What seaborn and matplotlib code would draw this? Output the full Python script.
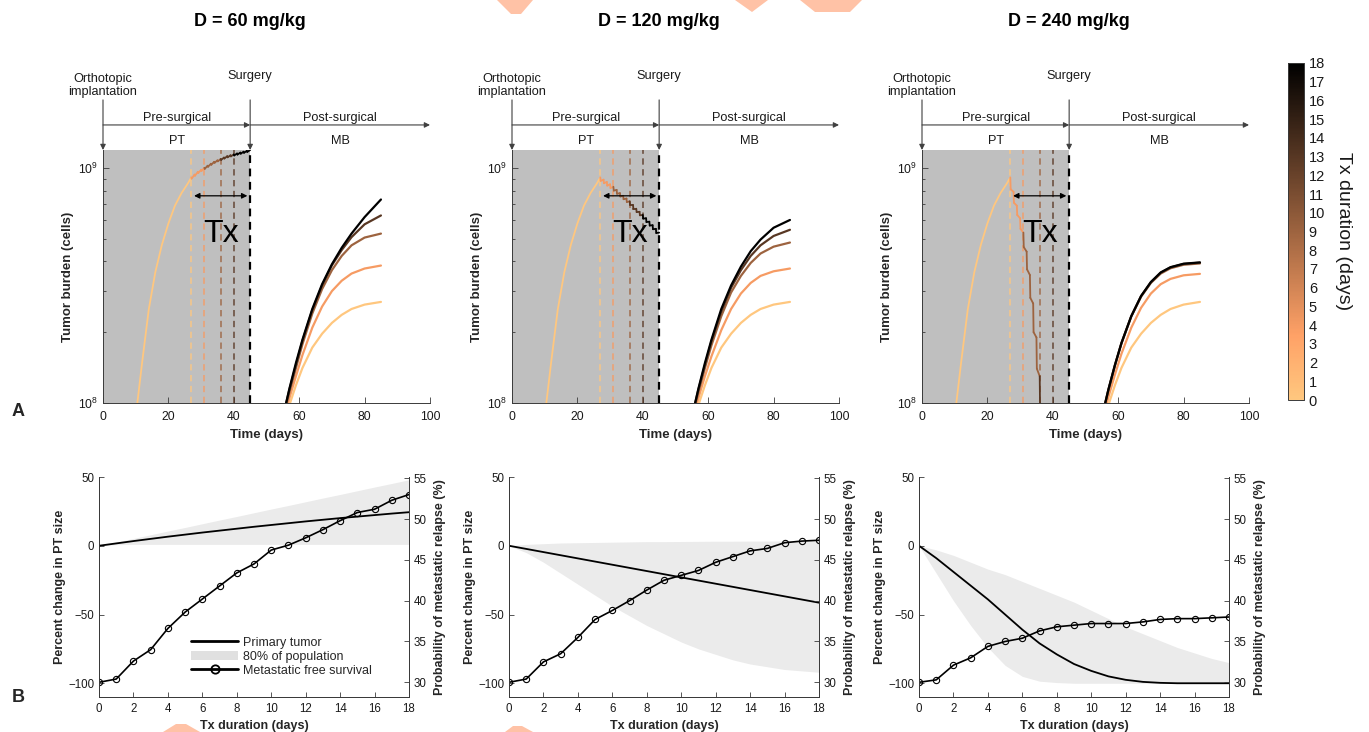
import numpy as np
import pandas as pd
import matplotlib
matplotlib.use('Agg')
import matplotlib.pyplot as plt
import seaborn as sns
from matplotlib.lines import Line2D
from matplotlib.patches import Patch, Polygon
from matplotlib.colors import Normalize
from matplotlib.cm import ScalarMappable
from matplotlib.collections import LineCollection

sns.set_theme(style='white')
plt.rcParams['font.family'] = ['Liberation Sans', 'DejaVu Sans']
plt.rcParams['mathtext.default'] = 'regular'

# ---- data ----
dose_titles = ['D = 60 mg/kg', 'D = 120 mg/kg', 'D = 240 mg/kg']
tx_durations = [0, 4, 9, 13, 18]
tx_end_days = [27, 31, 36, 40, 45]
tx_start = 27
surgery_day = 45

# pre-surgical primary tumour growth (cells)
pre_days = [10.5, 12, 14, 16, 18, 20, 22, 24, 26, 27]
pre_cells = [1.0e8, 1.5e8, 2.5e8, 3.6e8, 4.7e8, 5.8e8, 6.9e8, 7.8e8, 8.6e8, 9.1e8]

# PT during treatment, value before each daily dose and just after it (x1e8 cells)
tx_peak_60 = [9.1, 9.35, 9.6, 9.8, 10.0, 10.2, 10.4, 10.6, 10.75, 10.9, 11.05, 11.2, 11.3, 11.4, 11.5, 11.6, 11.7, 11.8, 11.9]
tx_dip_60 = [9.0, 9.25, 9.5, 9.7, 9.9, 10.1, 10.3, 10.5, 10.65, 10.8, 10.95, 11.08, 11.18, 11.28, 11.38, 11.48, 11.58, 11.68]
tx_peak_120 = [9.1, 8.9, 8.7, 8.5, 8.3, 8.05, 7.8, 7.6, 7.4, 7.2, 6.95, 6.7, 6.5, 6.3, 6.1, 5.9, 5.7, 5.5, 5.3]
tx_dip_120 = [8.8, 8.6, 8.4, 8.2, 8.0, 7.75, 7.55, 7.35, 7.15, 6.95, 6.7, 6.48, 6.28, 6.08, 5.88, 5.68, 5.48, 5.28]
tx_peak_240 = [9.1, 7.9, 6.9, 6.1, 5.3, 4.4, 3.5, 2.65, 1.9, 1.3]
tx_dip_240 = [8.1, 7.1, 6.3, 5.5, 4.6, 3.7, 2.8, 2.0, 1.4, 0.9]

# post-surgical metastatic burden (x1e8 cells), one list per Tx duration
mb_days = [55, 57, 59, 61, 64, 67, 70, 73, 76, 80, 85]
mb_d0 = [0.79, 0.98, 1.19, 1.41, 1.72, 1.97, 2.19, 2.37, 2.51, 2.62, 2.69]
mb_60 = [mb_d0,
         [0.83, 1.05, 1.30, 1.60, 2.09, 2.57, 2.99, 3.31, 3.55, 3.73, 3.84],
         [0.86, 1.11, 1.41, 1.78, 2.40, 3.05, 3.67, 4.22, 4.68, 5.05, 5.25],
         [0.87, 1.14, 1.45, 1.84, 2.48, 3.16, 3.85, 4.47, 5.07, 5.75, 6.27],
         [0.87, 1.15, 1.48, 1.86, 2.51, 3.20, 3.89, 4.57, 5.25, 6.17, 7.33]]
mb_120 = [mb_d0,
          [0.83, 1.05, 1.30, 1.58, 2.04, 2.51, 2.92, 3.24, 3.47, 3.63, 3.73],
          [0.86, 1.11, 1.41, 1.76, 2.34, 2.95, 3.47, 3.94, 4.32, 4.62, 4.81],
          [0.87, 1.14, 1.45, 1.83, 2.45, 3.09, 3.67, 4.22, 4.68, 5.13, 5.45],
          [0.87, 1.15, 1.48, 1.86, 2.51, 3.16, 3.80, 4.42, 4.95, 5.56, 6.00]]
mb_240 = [mb_d0,
          [0.83, 1.06, 1.32, 1.62, 2.09, 2.54, 2.92, 3.20, 3.37, 3.49, 3.54],
          [0.86, 1.13, 1.44, 1.79, 2.33, 2.83, 3.24, 3.55, 3.74, 3.87, 3.92],
          [0.87, 1.14, 1.45, 1.80, 2.34, 2.85, 3.26, 3.58, 3.77, 3.90, 3.95],
          [0.87, 1.14, 1.45, 1.80, 2.34, 2.85, 3.27, 3.59, 3.78, 3.91, 3.96]]

# panel B: Tx duration sweep
bx = list(range(19))
pt_60 = [0, 1.7, 3.4, 5.0, 6.6, 8.1, 9.6, 11.0, 12.4, 13.8, 15.1, 16.4, 17.7, 18.9, 20.1, 21.2, 22.3, 23.4, 24.4]
hi_60 = [0, 2.7, 5.3, 8, 10.7, 13.3, 16, 18.7, 21.3, 24, 26.7, 29.3, 32, 34.7, 37.3, 40, 42.7, 45.3, 48]
lo_60 = [0, 0.8, 1, 1, 1, 1, 1, 1, 1, 1, 1, 1, 1, 1, 1, 1, 1, 1, 1]
rel_60 = [30.0, 30.4, 32.6, 34.0, 36.6, 38.6, 40.2, 41.8, 43.4, 44.5, 46.2, 46.8, 47.7, 48.7, 49.8, 50.8, 51.2, 52.3, 53.0]

pt_120 = [0, -2.3, -4.6, -6.9, -9.2, -11.5, -13.8, -16.1, -18.4, -20.7, -23, -25.3, -27.6, -29.9, -32.2, -34.5, -36.8, -39.1, -41.4]
hi_120 = [0, 1, 1.5, 2, 2.2, 2.4, 2.6, 2.8, 3, 3, 3.1, 3.2, 3.3, 3.3, 3.4, 3.4, 3.5, 3.5, 3.5]
lo_120 = [0, -5, -12, -20, -28, -36, -44, -51, -58, -64, -70, -75, -79, -83, -86, -88, -90, -91, -92]
rel_120 = [30.0, 30.4, 32.5, 33.5, 35.5, 37.7, 38.8, 40.0, 41.3, 42.5, 43.1, 43.7, 44.7, 45.4, 46.1, 46.4, 47.1, 47.3, 47.4]

pt_240 = [0, -9, -19, -29, -39, -50, -61, -71, -79, -86, -91, -95, -97.5, -99, -99.7, -100, -100, -100, -100]
hi_240 = [0, -3, -7, -12, -17, -21, -26, -31, -36, -41, -47, -53, -59, -64, -69, -74, -78, -82, -85]
lo_240 = [0, -20, -40, -58, -74, -87, -95, -98.5, -99.5, -100, -100, -100, -100, -100, -100, -100, -100, -100, -100]
rel_240 = [30.0, 30.3, 32.1, 33.0, 34.4, 35.0, 35.4, 36.3, 36.8, 37.0, 37.2, 37.2, 37.2, 37.4, 37.7, 37.8, 37.8, 37.9, 38.0]

tx_peaks = [tx_peak_60, tx_peak_120, tx_peak_240]
tx_dips = [tx_dip_60, tx_dip_120, tx_dip_240]
mb_all = [mb_60, mb_120, mb_240]
pt_all = [pt_60, pt_120, pt_240]
hi_all = [hi_60, hi_120, hi_240]
lo_all = [lo_60, lo_120, lo_240]
rel_all = [rel_60, rel_120, rel_240]

cmap = plt.get_cmap('copper_r')
norm = Normalize(0, 18)
spine_col = '#3a3a3a'
txt_col = '#1a1a1a'

W, H = 1369, 732
fig = plt.figure(figsize=(W / 100, H / 100), dpi=100)


def fx(px):
    return px / W


def fy(py):
    return 1 - py / H


top_left = [103, 512, 922]
bot_left = [99, 509, 919]

# faint orange fragments cut by the figure edges
edge_bits = [[(497, 0), (533, 0), (521, 14), (511, 14)],
             [(735, 0), (768, 0), (752, 12)],
             [(800, 0), (862, 0), (850, 12), (815, 12)],
             [(163, 732), (200, 732), (186, 724), (176, 724)],
             [(505, 732), (533, 732), (522, 726), (513, 726)]]
for pts in edge_bits:
    fig.patches.append(Polygon([(fx(x), fy(y)) for x, y in pts], closed=True,
                               transform=fig.transFigure, facecolor='#ffc2a6',
                               edgecolor='none', zorder=0))

for i in range(3):
    # ---------- top row ----------
    ax = fig.add_axes([fx(top_left[i]), fy(403), 327 / W, 253 / H])
    ax.set_yscale('log')
    ax.set_xlim(0, 100)
    ax.set_ylim(1e8, 1.19e9)
    ax.axvspan(0, surgery_day, color='#bfbfbf', lw=0, zorder=0)

    ax.plot(pre_days, pre_cells, color=cmap(0.0), lw=1.3, zorder=3)

    # treatment phase with daily dose sawtooth
    xs, ys = [], []
    for k, p in enumerate(tx_peaks[i]):
        xs.append(tx_start + k)
        ys.append(p * 1e8)
        if k < len(tx_dips[i]):
            xs.append(tx_start + k + 0.12)
            ys.append(tx_dips[i][k] * 1e8)
    segs, cols = [], []
    for a in range(len(xs) - 1):
        segs.append([(xs[a], ys[a]), (xs[a + 1], ys[a + 1])])
        g = int(np.searchsorted(tx_end_days, xs[a + 1] - 1e-9))
        g = min(g, len(tx_durations) - 1)
        cols.append(cmap(norm(tx_durations[g])))
    ax.add_collection(LineCollection(segs, colors=cols, lw=1.3, zorder=4, capstyle='round'))

    for d, dur in zip(tx_end_days, tx_durations):
        c = cmap(norm(dur))
        ax.vlines(d, 1e8, 1.19e9, colors=[c], linestyles=(0, (3.5, 2.5)),
                  lw=1.6 if dur == 18 else 1.3, alpha=1 if dur == 18 else 0.75, zorder=2)

    rows = []
    for dur, vals in zip(tx_durations, mb_all[i]):
        for d, v in zip(mb_days, vals):
            rows.append((d, v * 1e8, dur))
    mb_df = pd.DataFrame(rows, columns=['day', 'cells', 'tx'])
    sns.lineplot(data=mb_df, x='day', y='cells', hue='tx', hue_order=tx_durations,
                 palette={d: cmap(norm(d)) for d in tx_durations}, estimator=None,
                 legend=False, lw=1.6, ax=ax, zorder=3)

    ax.annotate('', xy=(tx_start, 7.6e8), xytext=(surgery_day, 7.6e8),
                arrowprops=dict(arrowstyle='<|-|>', color='black', lw=0.9, mutation_scale=8), zorder=5)
    ax.text(36, 5.25e8, 'Tx', fontsize=23, ha='center', va='center', color='black', zorder=6)

    # timeline annotations above the axes
    tr = ax.get_xaxis_transform()
    arr = dict(arrowstyle='-|>', color='#404040', lw=0.8, mutation_scale=8, shrinkA=0, shrinkB=0)
    ax.annotate('', xy=(0, 1.0), xytext=(0, 1.198), xycoords=tr, arrowprops=arr, annotation_clip=False)
    ax.annotate('', xy=(surgery_day, 1.0), xytext=(surgery_day, 1.198), xycoords=tr, arrowprops=arr, annotation_clip=False)
    ax.annotate('', xy=(surgery_day, 1.099), xytext=(0, 1.099), xycoords=tr, arrowprops=arr, annotation_clip=False)
    ax.annotate('', xy=(100, 1.099), xytext=(surgery_day, 1.099), xycoords=tr, arrowprops=arr, annotation_clip=False)
    ax.text(0, 1.255, 'Orthotopic\nimplantation', transform=tr, ha='center', va='center', fontsize=9.2, color=txt_col, linespacing=1.1)
    ax.text(surgery_day, 1.2925, 'Surgery', transform=tr, ha='center', va='center', fontsize=9.2, color=txt_col)
    ax.text(22.5, 1.128, 'Pre-surgical', transform=tr, ha='center', va='center', fontsize=9.2, color=txt_col)
    ax.text(72.5, 1.128, 'Post-surgical', transform=tr, ha='center', va='center', fontsize=9.2, color=txt_col)
    ax.text(22.5, 1.036, 'PT', transform=tr, ha='center', va='center', fontsize=9.2, color=txt_col)
    ax.text(72.5, 1.036, 'MB', transform=tr, ha='center', va='center', fontsize=9.2, color=txt_col)

    ax.set_xticks([0, 20, 40, 60, 80, 100])
    ax.set_xlabel('Time (days)', fontsize=9.5, fontweight='bold', labelpad=4)
    ax.set_ylabel('Tumor burden (cells)', fontsize=9.5, fontweight='bold', labelpad=3)
    for s in ['top', 'right']:
        ax.spines[s].set_visible(False)
    for s in ['left', 'bottom']:
        ax.spines[s].set_color(spine_col)
        ax.spines[s].set_linewidth(0.7)
        ax.spines[s].set_zorder(7)
    ax.tick_params(which='both', direction='in', bottom=True, left=True, colors=spine_col,
                   labelcolor=txt_col, labelsize=8.8, width=0.6)
    ax.tick_params(which='major', length=4)
    ax.tick_params(which='minor', length=2.5)
    ax.tick_params(axis='x', pad=6)
    ax.grid(False)

    fig.text(fx(top_left[i] + 147), fy(21), dose_titles[i], ha='center', va='center',
             fontsize=13, fontweight='bold', color='black')

    # ---------- bottom row ----------
    bx_ax = fig.add_axes([fx(bot_left[i]), fy(697), 310 / W, 220 / H])
    bx_ax.fill_between(bx, lo_all[i], hi_all[i], color='#ebebeb', lw=0, zorder=1)
    sns.lineplot(x=bx, y=pt_all[i], color='black', lw=1.3, ax=bx_ax, zorder=3)
    bx_ax.set_xlim(0, 18)
    bx_ax.set_ylim(-110, 50)
    bx_ax.set_xticks(range(0, 19, 2))
    bx_ax.set_yticks([-100, -50, 0, 50])
    bx_ax.set_xlabel('Tx duration (days)', fontsize=9, fontweight='bold', labelpad=4)
    bx_ax.set_ylabel('Percent change in PT size', fontsize=9, fontweight='bold', labelpad=1.5)

    r_ax = bx_ax.twinx()
    sns.lineplot(x=bx, y=rel_all[i], color='black', lw=1.2, marker='o', markersize=4.5,
                 markerfacecolor='none', markeredgecolor='black', markeredgewidth=0.8, ax=r_ax)
    r_ax.set_ylim(28.2, 55.15)
    r_ax.set_yticks([30, 35, 40, 45, 50, 55])
    r_ax.set_ylabel('Probability of metastatic relapse (%)', fontsize=9, fontweight='bold', labelpad=5)

    for a in (bx_ax, r_ax):
        a.spines['top'].set_visible(False)
        for s in ['left', 'bottom', 'right']:
            a.spines[s].set_color(spine_col)
            a.spines[s].set_linewidth(0.7)
        a.tick_params(direction='in', colors=spine_col, labelcolor=txt_col, labelsize=8.3,
                      width=0.6, length=3.5)
        a.grid(False)
    bx_ax.tick_params(bottom=True, left=True)
    bx_ax.tick_params(axis='x', pad=4)
    r_ax.tick_params(right=True)

    if i == 0:
        handles = [Line2D([], [], color='black', lw=2),
                   Patch(facecolor='#e0e0e0', edgecolor='none'),
                   Line2D([], [], color='black', lw=2, marker='o', markersize=6,
                          markerfacecolor='none', markeredgewidth=1.3)]
        bx_ax.legend(handles, ['Primary tumor', '80% of population', 'Metastatic free survival'],
                     loc='lower left', bbox_to_anchor=(0.28, 0.07), frameon=False, fontsize=9,
                     handlelength=3.8, handletextpad=0.4, labelspacing=0.15, borderaxespad=0)

# colorbar
cax = fig.add_axes([fx(1288), fy(400), 16 / W, 337 / H])
sm = ScalarMappable(norm=norm, cmap=cmap)
cb = fig.colorbar(sm, cax=cax, ticks=range(19))
cb.outline.set_edgecolor(spine_col)
cb.outline.set_linewidth(0.7)
cb.ax.tick_params(labelsize=10.5, direction='in', length=3, width=0.6, right=True,
                  colors=spine_col, labelcolor=txt_col)
cb.set_label('Tx duration (days)', rotation=270, fontsize=14, labelpad=19, color=txt_col)

fig.text(fx(18), fy(411), 'A', fontsize=13, fontweight='bold', ha='center', va='center')
fig.text(fx(18), fy(697), 'B', fontsize=13, fontweight='bold', ha='center', va='center')

fig.savefig('out.png', dpi=100)
